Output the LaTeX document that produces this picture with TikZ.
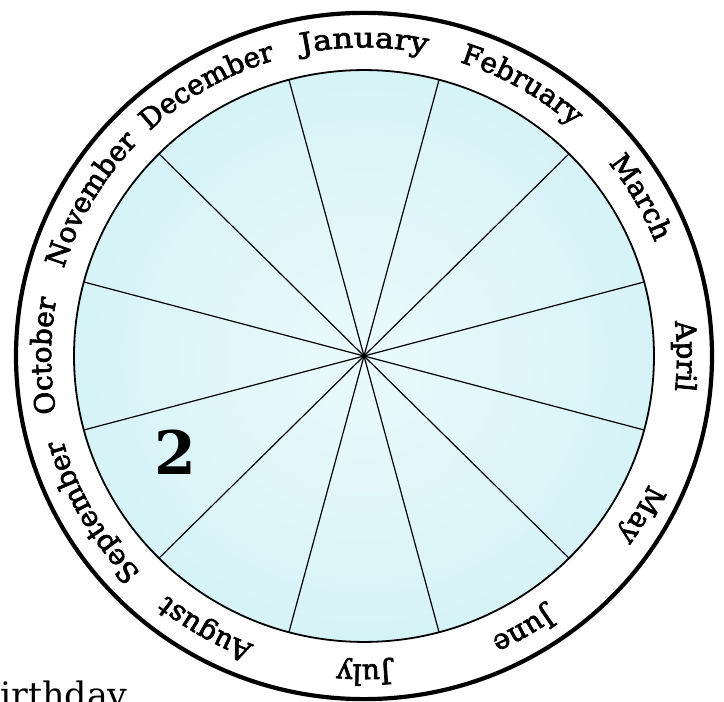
\documentclass[tikz,border=0pt]{standalone}
\usepackage{fontspec}
\usetikzlibrary{decorations.text}
\newfontfamily\mfont[FakeBold=2.5]{DejaVu Serif}
\newfontfamily\jfont[FakeBold=2.5,FakeStretch=1.15]{DejaVu Serif}
\newfontfamily\numfont{DejaVu Serif}
\newfontfamily\bdfont{DejaVu Serif}
\definecolor{wheelfill}{RGB}{214,243,248}
\definecolor{wheellight}{RGB}{234,250,252}
\begin{document}
\begin{tikzpicture}[x=1pt,y=1pt,
  rim/.style={line width=4.2pt},
  innerrim/.style={line width=1.8pt},
  spoke/.style={line width=1.2pt},
  monthlabel/.style={decorate, decoration={text along path, text align=center,
     text={|\fontsize{28}{28}\selectfont\mfont|#1}}},
  janlabel/.style={decorate, decoration={text along path, text align=center,
     text={|\fontsize{28}{28}\selectfont\jfont|#1}}}
]
\useasboundingbox (0,0) rectangle (724,702);
\coordinate (c) at (364,346);
\begin{scope}[shift={(c)}, yscale=0.986]
  \shade[inner color=wheellight, outer color=wheelfill] (0,0) circle (290);
  \coordinate (hub) at (0,0);
  \foreach \a in {15,45,...,345} {
    \coordinate (s\a) at (\a:290);
    \draw[spoke] (hub) -- (s\a);
  }
  \draw[innerrim] (hub) circle (290);
  \draw[rim] (hub) circle (348);
  \path[janlabel=January] (130:313) arc[start angle=130, end angle=50, radius=313];
  \foreach \m/\a in {February/60, March/30, April/0, May/-30, June/-60,
                     July/-90, August/-120, September/-150, October/-180,
                     November/150, December/120} {
    \path[monthlabel=\m] (\a+40:313) arc[start angle=\a+40, end angle=\a-40, radius=313];
  }
\end{scope}
\node[font=\fontsize{60}{60}\selectfont\numfont\bfseries] (two) at (175,250) {2};
\node[anchor=base west, inner sep=0pt, font=\fontsize{35}{35}\selectfont\bdfont] (bday) at (0,-6) {irthday};
\end{tikzpicture}
\end{document}
